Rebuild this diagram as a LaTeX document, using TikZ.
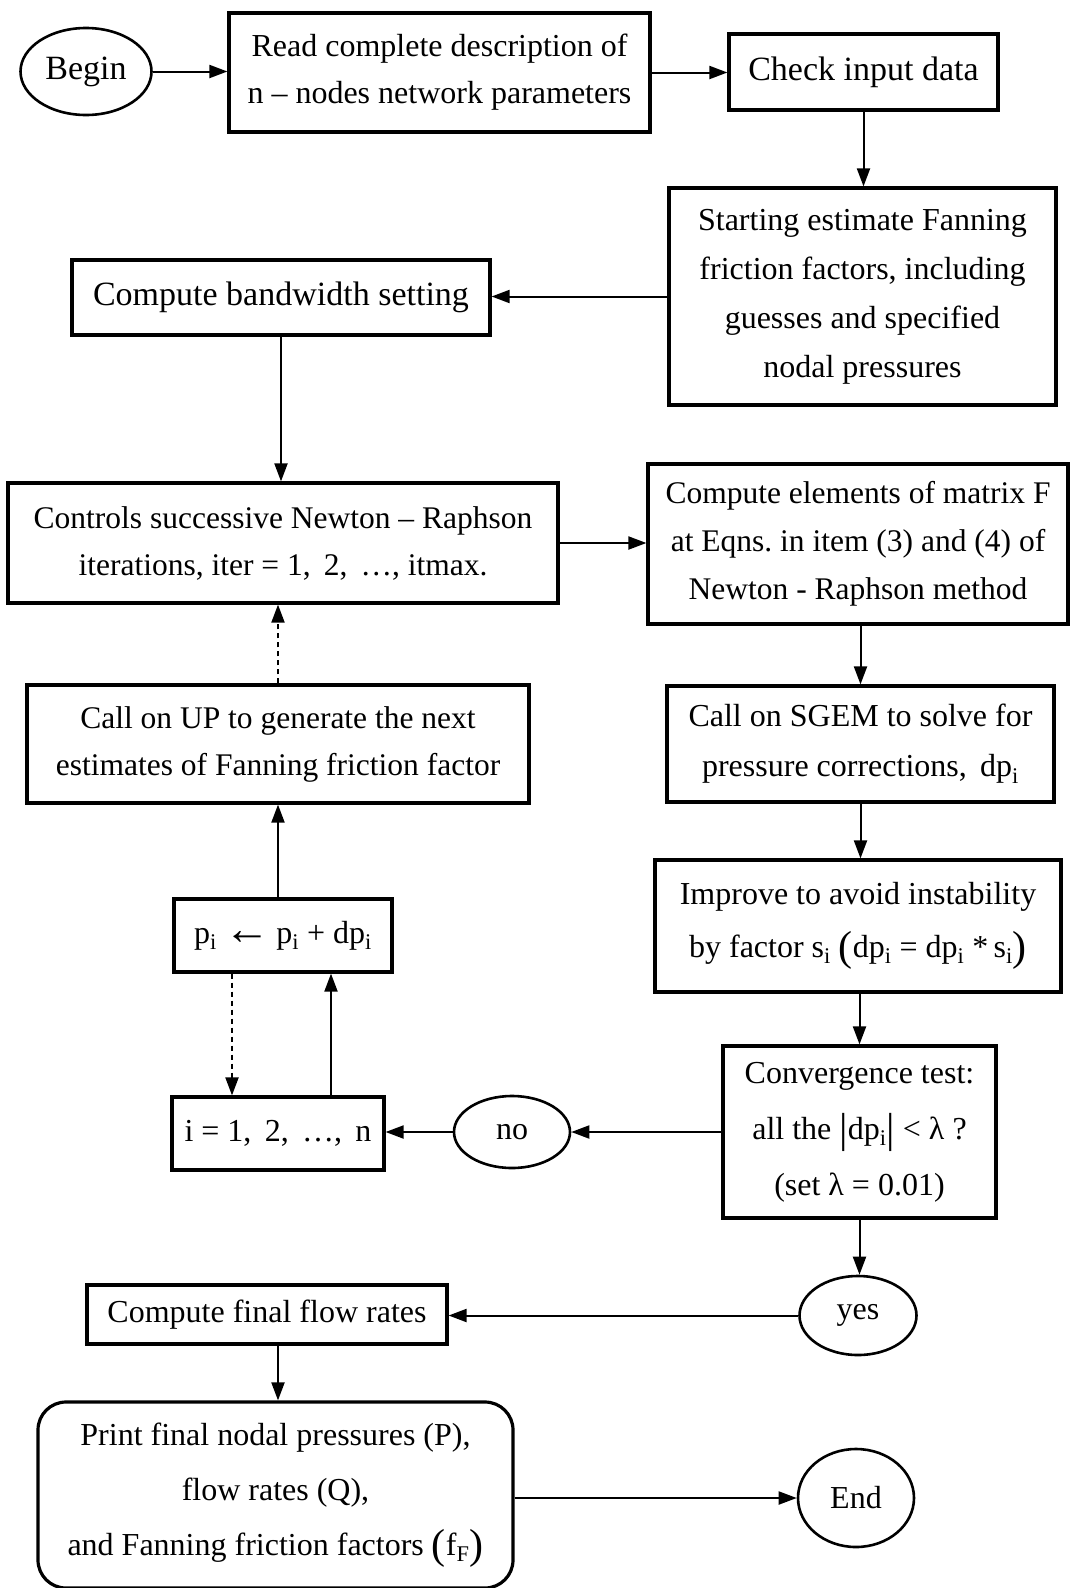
\documentclass[tikz,border=0pt]{standalone}
\usepackage{fontspec}
\setmainfont{Liberation Serif}
\usetikzlibrary{shapes.geometric,arrows.meta}
\newcommand{\sbi}{\textsubscript{i}}
\newcommand{\bigp}[1]{\raisebox{-3pt}{\fontsize{42}{42}\selectfont #1}}
\begin{document}
\begin{tikzpicture}[x=1pt,y=-1pt,
 box/.style={draw,line width=3.2pt,rectangle,inner sep=0pt,align=center,font=\fontsize{32}{48}\selectfont},
 rbox/.style={box,rounded corners=28pt},
 oval/.style={draw,line width=2.6pt,ellipse,inner sep=0pt,font=\fontsize{32}{38}\selectfont},
 arr/.style={line width=2pt,-{Triangle[length=18pt,width=13pt]}},
 dotarr/.style={arr,dash pattern=on 5pt off 4pt}]
\useasboundingbox (0,0) rectangle (1070,1588);
% nodes
\node[oval,minimum width=131pt,minimum height=87pt,font=\fontsize{34}{38}\selectfont] (begin) at (86,71.5) {Begin};
\node[box,minimum width=421pt,minimum height=119pt,font=\fontsize{32}{47}\selectfont] (read) at (439.5,72.5) {Read complete description of\\n -- nodes network parameters};
\node[box,minimum width=269pt,minimum height=76pt,font=\fontsize{34}{40}\selectfont] (check) at (863.5,72) {Check input data};
\node[box,minimum width=387pt,minimum height=217pt,font=\fontsize{32}{49}\selectfont] (start) at (862.5,296.5) {Starting estimate Fanning\\friction factors, including\\guesses and specified\\nodal pressures};
\node[box,minimum width=418pt,minimum height=75pt,font=\fontsize{34}{40}\selectfont] (band) at (281,297.5) {Compute bandwidth setting};
\node[box,minimum width=550pt,minimum height=120pt,font=\fontsize{31.5}{47}\selectfont] (ctrl) at (283,543) {Controls successive Newton -- Raphson\\iterations, iter = 1,\, 2,\, \ldots, itmax.};
\node[box,minimum width=420pt,minimum height=160pt,font=\fontsize{31.5}{48}\selectfont] (elem) at (858,544) {Compute elements of matrix F\\at Eqns.\ in item (3) and (4) of\\Newton - Raphson method};
\node[box,minimum width=502pt,minimum height=118pt,font=\fontsize{31.5}{47}\selectfont] (up) at (278,744) {Call on UP to generate the next\\estimates of Fanning friction factor};
\node[box,minimum width=387pt,minimum height=116pt,font=\fontsize{32}{50}\selectfont] (sgem) at (860.5,744) {Call on SGEM to solve for\\pressure corrections,\, dp\sbi};
\node[box,minimum width=406pt,minimum height=132pt,font=\fontsize{32}{53}\selectfont] (impr) at (858,926) {Improve to avoid instability\\by factor s\sbi\ \bigp{(}dp\sbi\ = dp\sbi\ *\,s\sbi\bigp{)}};
\node[box,minimum width=218pt,minimum height=73pt] (pbox) at (283,935.5) {p\sbi\ \raisebox{-1pt}{\fontsize{46}{46}\selectfont ←}\,p\sbi\ + dp\sbi};
\node[box,minimum width=212pt,minimum height=73pt] (ibox) at (278,1133.5) {i = 1,\, 2,\, \ldots,\, n};
\node[oval,minimum width=116pt,minimum height=72pt] (no) at (512,1132) {no};
\node[box,minimum width=273pt,minimum height=172pt,font=\fontsize{32}{56}\selectfont] (conv) at (859.5,1132) {Convergence test:\\all the \bigp{|}dp\sbi\bigp{|} < λ ?\\(set λ = 0.01)};
\node[oval,minimum width=117pt,minimum height=79pt] (yes) at (858,1315.5) {yes};
\node[box,minimum width=360pt,minimum height=59pt] (final) at (267,1314.5) {Compute final flow rates};
\node[rbox,minimum width=475pt,minimum height=186pt,font=\fontsize{32}{55}\selectfont] (print) at (275.5,1495) {Print final nodal pressures (P),\\flow rates (Q),\\and Fanning friction factors \bigp{(}f\textsubscript{F}\bigp{)}};
\node[oval,minimum width=116pt,minimum height=98pt] (end) at (856,1498) {End};
% connectors
\draw[arr] (begin.east) -- (begin.east -| read.west);
\draw[arr] (read.east) -- (read.east -| check.west);
\draw[arr] (check.south) -- (check.south |- start.north);
\draw[arr] (start.west) -- (start.west -| band.east);
\draw[arr] (band.south) -- (band.south |- ctrl.north);
\draw[arr] (ctrl.east) -- (ctrl.east -| elem.west);
\draw[arr] (sgem.north |- elem.south) -- (sgem.north);
\draw[arr] (sgem.south) -- (sgem.south |- impr.north);
\draw[arr] (conv.north |- impr.south) -- (conv.north);
\draw[arr] (conv.west) -- (no.east);
\draw[arr] (no.west) -- (no.west -| ibox.east);
\draw[arr] ([xshift=53pt]ibox.north) -- ([xshift=53pt]ibox.north |- pbox.south);
\draw[dotarr] ([xshift=-46pt]ibox.north |- pbox.south) -- ([xshift=-46pt]ibox.north);
\draw[arr] (up.south |- pbox.north) -- (up.south);
\draw[dotarr] (up.north) -- (up.north |- ctrl.south);
\draw[arr] (conv.south) -- (conv.south |- yes.north);
\draw[arr] (yes.west) -- (yes.west -| final.east);
\draw[arr] ([xshift=11pt]final.south) -- ([xshift=11pt]final.south |- print.north);
\draw[arr] (end.west -| print.east) -- (end.west);
\end{tikzpicture}
\end{document}
